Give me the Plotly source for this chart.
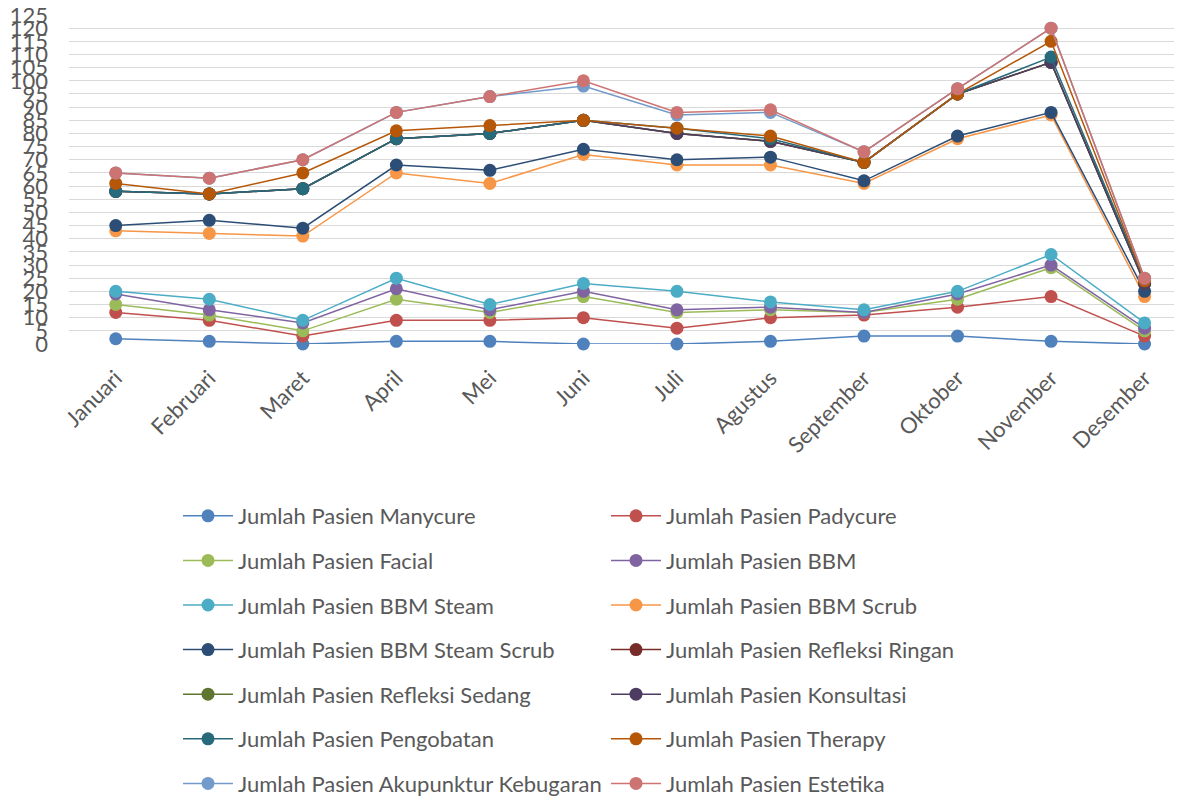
import plotly.graph_objects as go

months = ["Januari", "Februari", "Maret", "April", "Mei", "Juni", "Juli",
          "Agustus", "September", "Oktober", "November", "Desember"]

# Per-series monthly counts (the chart is an Excel "stacked line" chart)
manycure = [2, 1, 0, 1, 1, 0, 0, 1, 3, 3, 1, 0]
padycure = [10, 8, 3, 8, 8, 10, 6, 9, 8, 11, 17, 3]
facial = [3, 2, 2, 8, 3, 8, 6, 3, 1, 3, 11, 2]
bbm = [4, 2, 3, 4, 1, 2, 1, 1, 0, 2, 1, 1]
bbm_steam = [1, 4, 1, 4, 2, 3, 7, 2, 1, 1, 4, 2]
bbm_scrub = [23, 25, 32, 40, 46, 49, 48, 52, 48, 58, 53, 10]
bbm_steam_scrub = [2, 5, 3, 3, 5, 2, 2, 3, 1, 1, 1, 2]
refleksi_ringan = [13, 10, 15, 10, 14, 11, 10, 6, 7, 16, 19, 3]
refleksi_sedang = [0, 0, 0, 0, 0, 0, 0, 0, 0, 0, 0, 0]
konsultasi = [0, 0, 0, 0, 0, 0, 0, 0, 0, 0, 0, 0]
pengobatan = [0, 0, 0, 0, 0, 0, 2, 1, 0, 0, 2, 1]
therapy = [3, 0, 6, 3, 3, 0, 0, 1, 0, 0, 6, 0]
akupunktur = [4, 6, 5, 7, 11, 13, 5, 9, 4, 2, 5, 1]
estetika = [0, 0, 0, 0, 0, 2, 1, 1, 0, 0, 0, 0]

series_names = [
    "Jumlah Pasien Manycure", "Jumlah Pasien Padycure", "Jumlah Pasien Facial",
    "Jumlah Pasien BBM", "Jumlah Pasien BBM Steam", "Jumlah Pasien BBM Scrub",
    "Jumlah Pasien BBM Steam Scrub", "Jumlah Pasien Refleksi Ringan",
    "Jumlah Pasien Refleksi Sedang", "Jumlah Pasien Konsultasi",
    "Jumlah Pasien Pengobatan", "Jumlah Pasien Therapy",
    "Jumlah Pasien Akupunktur Kebugaran", "Jumlah Pasien Estetika",
]
series_values = [manycure, padycure, facial, bbm, bbm_steam, bbm_scrub,
                 bbm_steam_scrub, refleksi_ringan, refleksi_sedang, konsultasi,
                 pengobatan, therapy, akupunktur, estetika]
colors = ["#4F81BD", "#C0504D", "#9BBB59", "#8064A2", "#4BACC6", "#F79646",
          "#2C4D75", "#772C2A", "#5F7530", "#4D3B62", "#276A7C", "#B65708",
          "#729ACA", "#CD7371"]

y_ticks = list(range(0, 126, 5))

FONT = "Lato"
GRAY = "#595959"
W, H = 1174, 793  # page body adds an 8px margin around the figure

fig = go.Figure()
for i, (name, vals, col) in enumerate(zip(series_names, series_values, colors)):
    fig.add_trace(go.Scatter(
        x=months, y=vals, name=name,
        mode="lines+markers",
        stackgroup="one", fill="none",
        line=dict(color=col, width=1.5),
        marker=dict(color=col, size=13),
        cliponaxis=False,
        legend="legend" if i % 2 == 0 else "legend2",
        legendgroup=name,
    ))

legend_common = dict(
    orientation="v",
    xref="container", yref="container",
    yanchor="top", xanchor="left",
    font=dict(family=FONT, size=22, color=GRAY),
    bgcolor="rgba(0,0,0,0)",
    tracegroupgap=13,
    itemwidth=50,
)

fig.update_layout(
    width=W, height=H,
    margin=dict(l=61, r=0, t=7, b=457, autoexpand=False),
    paper_bgcolor="white", plot_bgcolor="white",
    font=dict(family=FONT, color=GRAY),
    showlegend=True,
    legend=dict(x=170 / W, y=1 - 487 / H, **legend_common),
    legend2=dict(x=598 / W, y=1 - 487 / H, **legend_common),
    xaxis=dict(
        type="category", range=[-0.5, 11.4],
        showgrid=False, showline=False, zeroline=False, ticks="",
        tickangle=-45, tickfont=dict(family=FONT, size=22, color=GRAY),
        ticklabelstandoff=16, automargin=False,
    ),
    yaxis=dict(
        range=[0, 125], tickmode="array", tickvals=y_ticks,
        ticktext=[str(v) for v in y_ticks],
        showgrid=True, gridcolor="#D9D9D9", gridwidth=1.3,
        zeroline=False, showline=False, ticks="",
        tickfont=dict(family=FONT, size=22, color=GRAY),
        ticklabelstandoff=20, automargin=False,
        ticklabeloverflow="allow",
    ),
)

fig.write_html("out.html")
